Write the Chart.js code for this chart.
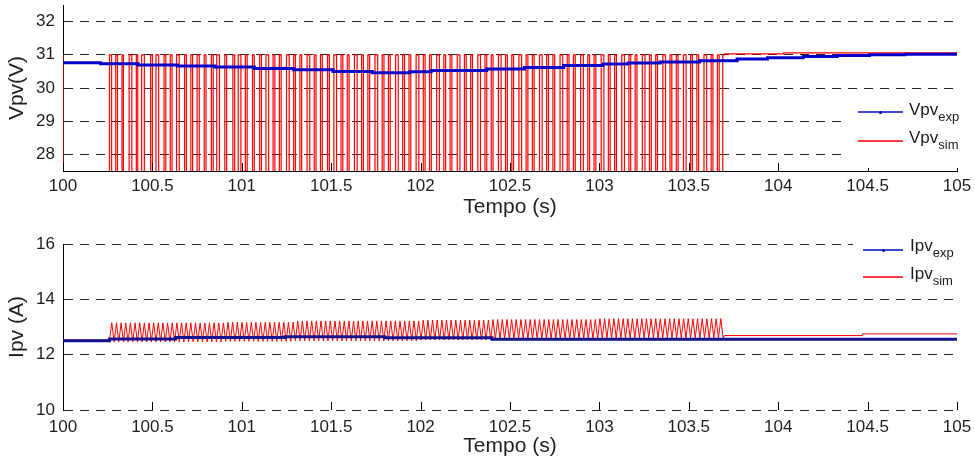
<!DOCTYPE html>
<html>
<head>
<meta charset="utf-8">
<script src="https://cdn.jsdelivr.net/npm/chart.js@4.4.1/dist/chart.umd.min.js"></script>
<style>
    body { margin: 0; background: #fff; }
    #wrap { position: relative; width: 975px; height: 459px; font-family: "Liberation Sans", Arial, sans-serif; color: #1a1a1a; }
    .panel { position: absolute; left: 0; }
    .legend { position: absolute; background: #fff; }
    .swatch { position: absolute; height: 0; }
    .swatch.exp { border-top: 2px solid #3d4bd2; }
    .swatch.sim { border-top: 2px solid #ff3b3b; }
    .dot { position: absolute; width: 3px; height: 3px; background: #0000a0; border-radius: 50%; }
    .lbl { position: absolute; font-size: 17px; line-height: 17px; white-space: nowrap; }
    .lbl sub { font-size: 13px; vertical-align: -6px; line-height: 0; }
</style>
</head>
<body>
<div id="wrap">
    <canvas id="vpvChart" class="panel" width="975" height="220" style="top:0"></canvas>
    <canvas id="ipvChart" class="panel" width="975" height="239" style="top:220px"></canvas>

    <div class="legend" style="left:848px;top:94px;width:112px;height:74px"></div>
    <div class="swatch exp" style="left:858px;top:111px;width:45px"></div>
    <div class="dot" style="left:879px;top:111px"></div>
    <div class="lbl" style="left:909px;top:101px">Vpv<sub>exp</sub></div>
    <div class="swatch sim" style="left:858px;top:140px;width:45px"></div>
    <div class="lbl" style="left:909px;top:129px">Vpv<sub>sim</sub></div>

    <div class="legend" style="left:853px;top:236px;width:107px;height:56px"></div>
    <div class="swatch exp" style="left:863px;top:249px;width:40px"></div>
    <div class="dot" style="left:882px;top:249px"></div>
    <div class="lbl" style="left:910px;top:237px">Ipv<sub>exp</sub></div>
    <div class="swatch sim" style="left:863px;top:276px;width:40px"></div>
    <div class="lbl" style="left:910px;top:265px">Ipv<sub>sim</sub></div>
</div>
<script>
/* AXES */
const xTicks = [100, 100.5, 101, 101.5, 102, 102.5, 103, 103.5, 104, 104.5, 105]
const vpvTicks = [28, 29, 30, 31, 32]
const ipvTicks = [10, 12, 14, 16]

/* Vpv experimental (step levels, value holds until next time) */
const vpvExpT = [100, 100.21, 100.42, 100.64, 100.85, 101.07, 101.29, 101.51, 101.73, 101.94, 102.06, 102.37,
    102.58, 102.80, 103.02, 103.16, 103.34, 103.56, 103.77, 103.94, 104.14, 104.33, 104.51, 104.71, 104.89, 105]
const vpvExpV = [30.80, 30.76, 30.73, 30.69, 30.66, 30.63, 30.59, 30.55, 30.50, 30.46, 30.49, 30.53,
    30.57, 30.62, 30.68, 30.72, 30.75, 30.78, 30.82, 30.87, 30.91, 30.95, 30.98, 31.00, 31.02, 31.02]

/* Vpv simulated: flat level, switching pulses [down, up], then tail */
const vpvSimHigh = 31.0
const vpvSimLow = 20
const vpvSimPulses = [
    [100.26, 100.272], [100.295, 100.305], [100.33, 100.338], [100.37, 100.385], [100.41, 100.418],
    [100.44, 100.455], [100.49, 100.50], [100.52, 100.535], [100.565, 100.575], [100.60, 100.61],
    [100.635, 100.65], [100.68, 100.69], [100.715, 100.725], [100.75, 100.762], [100.79, 100.80],
    [100.83, 100.84], [100.86, 100.875], [100.905, 100.915], [100.95, 100.96], [100.98, 100.995],
    [101.02, 101.03], [101.06, 101.07], [101.10, 101.11], [101.135, 101.15], [101.175, 101.185],
    [101.21, 101.22], [101.25, 101.265], [101.29, 101.30], [101.325, 101.335], [101.365, 101.38],
    [101.405, 101.415], [101.44, 101.45], [101.48, 101.49], [101.515, 101.53], [101.555, 101.565],
    [101.59, 101.60], [101.63, 101.645], [101.67, 101.68], [101.705, 101.715], [101.745, 101.76],
    [101.785, 101.795], [101.82, 101.83], [101.86, 101.875], [101.90, 101.91], [101.935, 101.945],
    [101.975, 101.99], [102.015, 102.025], [102.05, 102.06], [102.09, 102.105], [102.13, 102.14],
    [102.165, 102.175], [102.205, 102.22], [102.245, 102.255], [102.28, 102.29], [102.32, 102.335],
    [102.36, 102.37], [102.395, 102.405], [102.435, 102.45], [102.475, 102.485], [102.51, 102.52],
    [102.55, 102.565], [102.59, 102.60], [102.625, 102.635], [102.665, 102.68], [102.705, 102.715],
    [102.74, 102.75], [102.78, 102.795], [102.82, 102.83], [102.855, 102.865], [102.895, 102.91],
    [102.935, 102.945], [102.97, 102.98], [103.01, 103.025], [103.05, 103.06], [103.085, 103.095],
    [103.125, 103.14], [103.165, 103.175], [103.20, 103.21], [103.24, 103.255], [103.28, 103.29],
    [103.315, 103.325], [103.355, 103.37], [103.395, 103.405], [103.43, 103.44], [103.47, 103.485],
    [103.51, 103.52], [103.545, 103.555], [103.585, 103.60], [103.625, 103.635], [103.66, 103.67],
    [103.69, 103.70]
]
const vpvSimTailT = [104.03, 104.90, 105]
const vpvSimTailV = [31.03, 31.06, 31.06]

/* Ipv experimental (step levels) */
const ipvExpT = [100, 100.26, 100.63, 101.24, 101.80, 102.40, 104.39, 105]
const ipvExpV = [12.53, 12.50, 12.57, 12.62, 12.65, 12.61, 12.56, 12.56]

/* Ipv simulated: flat start, ripple vertices (high, low, high, ...), flat tail */
const ipvSimHeadT = [100, 100.26]
const ipvSimHeadV = [12.53, 12.53]
const ipvRippleT = [
    100.273, 100.286, 100.299, 100.312, 100.325, 100.338, 100.351, 100.364, 100.377, 100.390,
    100.403, 100.416, 100.429, 100.442, 100.455, 100.468, 100.481, 100.494, 100.507, 100.520,
    100.533, 100.546, 100.559, 100.572, 100.585, 100.598, 100.611, 100.624, 100.637, 100.650,
    100.663, 100.676, 100.689, 100.702, 100.715, 100.728, 100.741, 100.754, 100.767, 100.780,
    100.793, 100.806, 100.819, 100.832, 100.845, 100.858, 100.871, 100.884, 100.897, 100.910,
    100.923, 100.936, 100.949, 100.962, 100.975, 100.988, 101.001, 101.014, 101.027, 101.040,
    101.053, 101.066, 101.079, 101.092, 101.105, 101.118, 101.131, 101.144, 101.157, 101.170,
    101.183, 101.196, 101.209, 101.222, 101.235, 101.248, 101.261, 101.274, 101.287, 101.300,
    101.313, 101.326, 101.339, 101.352, 101.365, 101.378, 101.391, 101.404, 101.417, 101.430,
    101.443, 101.456, 101.469, 101.482, 101.495, 101.508, 101.521, 101.534, 101.547, 101.560,
    101.573, 101.586, 101.599, 101.612, 101.625, 101.638, 101.651, 101.664, 101.677, 101.690,
    101.703, 101.716, 101.729, 101.742, 101.755, 101.768, 101.781, 101.794, 101.807, 101.820,
    101.833, 101.846, 101.859, 101.872, 101.885, 101.898, 101.911, 101.924, 101.937, 101.950,
    101.963, 101.976, 101.989, 102.002, 102.015, 102.028, 102.041, 102.054, 102.067, 102.080,
    102.093, 102.106, 102.119, 102.132, 102.145, 102.158, 102.171, 102.184, 102.197, 102.210,
    102.223, 102.236, 102.249, 102.262, 102.275, 102.288, 102.301, 102.314, 102.327, 102.340,
    102.353, 102.366, 102.379, 102.392, 102.405, 102.418, 102.431, 102.444, 102.457, 102.470,
    102.483, 102.496, 102.509, 102.522, 102.535, 102.548, 102.561, 102.574, 102.587, 102.600,
    102.613, 102.626, 102.639, 102.652, 102.665, 102.678, 102.691, 102.704, 102.717, 102.730,
    102.743, 102.756, 102.769, 102.782, 102.795, 102.808, 102.821, 102.834, 102.847, 102.860,
    102.873, 102.886, 102.899, 102.912, 102.925, 102.938, 102.951, 102.964, 102.977, 102.990,
    103.003, 103.016, 103.029, 103.042, 103.055, 103.068, 103.081, 103.094, 103.107, 103.120,
    103.133, 103.146, 103.159, 103.172, 103.185, 103.198, 103.211, 103.224, 103.237, 103.250,
    103.263, 103.276, 103.289, 103.302, 103.315, 103.328, 103.341, 103.354, 103.367, 103.380,
    103.393, 103.406, 103.419, 103.432, 103.445, 103.458, 103.471, 103.484, 103.497, 103.510,
    103.523, 103.536, 103.549, 103.562, 103.575, 103.588, 103.601, 103.614, 103.627, 103.640,
    103.653, 103.666, 103.679, 103.692
]
// ripple peak/valley levels, each holding from its start time
const ipvRippleStart = [100.26, 100.90, 101.30, 102.00, 102.40, 103.00]
const ipvRippleHigh = [13.15, 13.17, 13.22, 13.25, 13.27, 13.30]
const ipvRippleLow = [12.46, 12.48, 12.50, 12.53, 12.57, 12.60]
const ipvSimTailT = [103.70, 104.47, 104.47, 105]
const ipvSimTailV = [12.69, 12.69, 12.75, 12.75]

/* BUILD SERIES */

const FONT = '"Liberation Sans", Arial, sans-serif'
const TEXT = '#1f1f1f'

function toPoints(ts, vs) {
    return ts.map((t, i) => ({ x: t, y: vs[i] }))
}

function vpvSimPoints() {
    const pts = [{ x: 100, y: vpvSimHigh }]
    vpvSimPulses.forEach(([down, up]) => {
        pts.push({ x: down, y: vpvSimLow })
        pts.push({ x: up, y: vpvSimHigh })
    })
    return pts.concat(toPoints(vpvSimTailT, vpvSimTailV))
}

function rippleLevel(t) {
    let k = 0
    ipvRippleStart.forEach((s, i) => { if (t >= s) k = i })
    return k
}

function ipvSimPoints() {
    const pts = toPoints(ipvSimHeadT, ipvSimHeadV)
    ipvRippleT.forEach((t, i) => {
        const k = rippleLevel(t)
        pts.push({ x: t, y: i % 2 === 0 ? ipvRippleHigh[k] : ipvRippleLow[k] })
    })
    return pts.concat(toPoints(ipvSimTailT, ipvSimTailV))
}

/* CHARTS */

const inwardTicks = {
    id: 'inwardTicks',
    afterDraw(chart) {
        const { ctx, chartArea, scales: { x } } = chart
        ctx.save()
        ctx.strokeStyle = '#000'
        ctx.lineWidth = 1
        ctx.beginPath()
        xTicks.forEach((v) => {
            const px = Math.round(x.getPixelForValue(v)) + 0.5
            ctx.moveTo(px, chartArea.bottom)
            ctx.lineTo(px, chartArea.bottom - 8)
        })
        ctx.stroke()
        ctx.restore()
    }
}

function buildOptions(cfg) {
    return {
        responsive: false,
        animation: false,
        devicePixelRatio: 1,
        events: [],
        layout: { padding: { left: 0, right: 18, top: cfg.padTop, bottom: 0 } },
        plugins: { legend: { display: false }, tooltip: { enabled: false } },
        elements: { point: { radius: 0 } },
        scales: {
            x: {
                type: 'linear',
                min: 100,
                max: 105,
                afterBuildTicks: (s) => { s.ticks = xTicks.map((v) => ({ value: v })) },
                afterFit: (s) => { s.height = 49; s.paddingLeft = 0; s.paddingRight = 0 },
                grid: { display: false },
                border: { display: cfg.xBorder, color: '#000', width: 1 },
                ticks: {
                    color: TEXT,
                    font: { family: FONT, size: 17 },
                    padding: cfg.labelPad,
                    maxRotation: 0,
                    autoSkip: false,
                    callback: (v) => String(v)
                },
                title: {
                    display: true,
                    text: 'Tempo (s)',
                    color: TEXT,
                    font: { family: FONT, size: 21 },
                    padding: { top: 0, bottom: 0 }
                }
            },
            y: {
                min: cfg.yMin,
                max: cfg.yMax,
                afterBuildTicks: (s) => { s.ticks = cfg.yTicks.map((v) => ({ value: v })) },
                afterFit: (s) => { s.width = 63; s.paddingTop = 0; s.paddingBottom = 0 },
                grid: { color: '#262626', lineWidth: 1, drawTicks: false },
                border: { display: true, color: '#000', width: 1, dash: [9, 7] },
                ticks: {
                    color: TEXT,
                    font: { family: FONT, size: 17 },
                    padding: 8,
                    callback: (v) => String(v)
                },
                title: {
                    display: true,
                    text: cfg.yTitle,
                    color: TEXT,
                    font: { family: FONT, size: 21 },
                    padding: { top: 5, bottom: 0 }
                }
            }
        }
    }
}

new Chart(document.getElementById('vpvChart'), {
    type: 'line',
    data: {
        datasets: [
            {
                label: 'Vpv exp',
                data: toPoints(vpvExpT, vpvExpV),
                stepped: 'after',
                borderColor: '#0000c8',
                borderWidth: 3
            },
            {
                label: 'Vpv sim',
                data: vpvSimPoints(),
                stepped: 'after',
                borderColor: '#ff0000',
                borderWidth: 1.2,
                clip: 0
            }
        ]
    },
    options: buildOptions({ padTop: 5, xBorder: true, labelPad: -3, yMin: 27.5, yMax: 32.5, yTicks: vpvTicks, yTitle: 'Vpv(V)' }),
    plugins: [inwardTicks]
})

new Chart(document.getElementById('ipvChart'), {
    type: 'line',
    data: {
        datasets: [
            {
                label: 'Ipv exp',
                data: toPoints(ipvExpT, ipvExpV),
                stepped: 'after',
                borderColor: '#12128f',
                borderWidth: 3
            },
            {
                label: 'Ipv sim',
                data: ipvSimPoints(),
                borderColor: '#ff0000',
                borderWidth: 1,
                clip: 0
            }
        ]
    },
    options: buildOptions({ padTop: 24, xBorder: false, labelPad: -1, yMin: 10, yMax: 16, yTicks: ipvTicks, yTitle: 'Ipv (A)' }),
    plugins: [inwardTicks]
})
</script>
</body>
</html>
